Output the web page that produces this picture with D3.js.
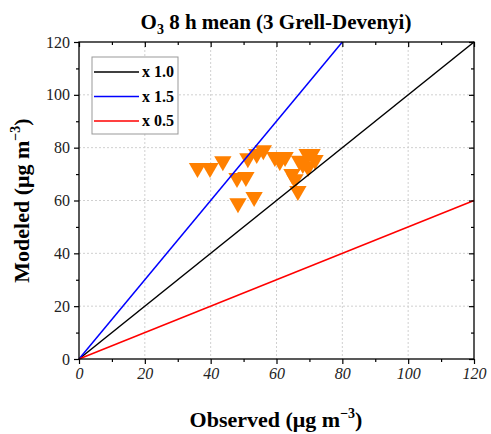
<!DOCTYPE html>
<html><head><meta charset="utf-8">
<script src="https://cdn.jsdelivr.net/npm/d3@7"></script>
<style>body{margin:0;background:#fff}svg{display:block}text{font-family:"Liberation Serif","Times New Roman",serif}</style>
</head><body><svg id="c" width="491" height="434"></svg>
<script>
const observed = [36,39.8,43.7,48,50.7,48.3,53.2,51.3,54,56,59.5,62.6,61,64.7,65.6,66.5,69.3,70.8,68,71.7,69.6,67];
const modeled  = [72.3,72.3,74.9,68.5,68.9,59,61.3,76,77.6,79,76.5,76.5,75,70,68,63.6,77.6,77.6,73.8,75.3,72.7,75];
const ratioLabels = ["x 1.0","x 1.5","x 0.5"];
const ratios = [1.0,1.5,0.5];
const ratioColors = ["#000000","#0000ff","#ff0000"];
const majorTicks = [0,20,40,60,80,100,120];
const minorTicks = [10,30,50,70,90,110];

const svg = d3.select("#c");
const L=79,R=474,T=42,B=359;
const x = d3.scaleLinear().domain([0,120]).range([L,R]);
const y = d3.scaleLinear().domain([0,120]).range([B,T]);

// grid
const g = svg.append("g");
majorTicks.slice(1,-1).forEach(v=>{
  g.append("line").attr("x1",x(v)).attr("x2",x(v)).attr("y1",T).attr("y2",B).attr("stroke","#d0d0d0").attr("stroke-dasharray","2,2");
  g.append("line").attr("y1",y(v)).attr("y2",y(v)).attr("x1",L).attr("x2",R).attr("stroke","#d0d0d0").attr("stroke-dasharray","2,2");
});

// points
svg.append("g").selectAll("path").data(observed.map((o,i)=>[o,modeled[i]])).join("path")
  .attr("d", d3.symbol(d3.symbolTriangle, 130))
  .attr("transform", d=>`translate(${x(d[0])},${y(d[1])}) rotate(180)`)
  .attr("fill","#ff8000");

// lines
const line = d3.line().x(d=>x(d[0])).y(d=>y(d[1]));
ratios.forEach((r,i)=>{
  const xe = Math.min(120, 120/r);
  svg.append("path").attr("d", line([[0,0],[xe,xe*r]])).attr("stroke",ratioColors[i]).attr("stroke-width",1.5).attr("fill","none");
});

// axes
const axB = d3.axisBottom(x).tickValues(majorTicks).tickSize(5).tickPadding(4);
const bx = svg.append("g").attr("transform",`translate(0,${B})`).call(axB);
bx.selectAll("text").attr("font-size",16).attr("font-style","italic").attr("fill","#222").style("font-family","Liberation Serif");
const axL = d3.axisLeft(y).tickValues(majorTicks).tickSize(5).tickPadding(4);
const ly = svg.append("g").attr("transform",`translate(${L},0)`).call(axL);
ly.selectAll("text").attr("font-size",16).attr("fill","#222").style("font-family","Liberation Serif");
svg.append("g").attr("transform",`translate(0,${T})`).call(d3.axisBottom(x).tickValues(majorTicks).tickSize(5).tickFormat(""));
svg.append("g").attr("transform",`translate(${R},0)`).call(d3.axisLeft(y).tickValues(majorTicks).tickSize(5).tickFormat(""));
// minor
svg.append("g").attr("transform",`translate(0,${B})`).call(d3.axisBottom(x).tickValues(minorTicks).tickSize(3).tickFormat(""));
svg.append("g").attr("transform",`translate(${L},0)`).call(d3.axisLeft(y).tickValues(minorTicks).tickSize(3).tickFormat(""));
svg.append("g").attr("transform",`translate(0,${T})`).call(d3.axisBottom(x).tickValues(minorTicks).tickSize(3).tickFormat(""));
svg.append("g").attr("transform",`translate(${R},0)`).call(d3.axisLeft(y).tickValues(minorTicks).tickSize(3).tickFormat(""));
svg.selectAll(".domain").remove();
svg.selectAll(".tick line").attr("stroke","#000").attr("stroke-width",1.2);
// frame
svg.append("rect").attr("x",L).attr("y",T).attr("width",R-L).attr("height",B-T).attr("fill","none").attr("stroke","#000").attr("stroke-width",1.3);

// legend
const lg = svg.append("g");
lg.append("rect").attr("x",92).attr("y",57).attr("width",86).attr("height",77).attr("fill","#fff").attr("stroke","#999");
ratioLabels.forEach((t,i)=>{
  const yy = 72 + i*24.5;
  lg.append("line").attr("x1",94).attr("x2",139).attr("y1",yy).attr("y2",yy).attr("stroke",ratioColors[i]).attr("stroke-width",1.5);
  lg.append("text").attr("x",142).attr("y",yy+5).attr("font-size",16).attr("font-weight","bold").text(t);
});

// title
const tt = svg.append("text").attr("x",276).attr("y",29).attr("text-anchor","middle").attr("font-size",21).attr("font-weight","bold");
tt.append("tspan").text("O");
tt.append("tspan").attr("font-size",14).attr("dy",5).text("3");
tt.append("tspan").attr("dy",-5).text(" 8 h mean (3 Grell-Devenyi)");

// x label
const xl = svg.append("text").attr("x",276).attr("y",427).attr("text-anchor","middle").attr("font-size",22).attr("font-weight","bold");
xl.append("tspan").text("Observed (μg m");
xl.append("tspan").attr("font-size",14).attr("dy",-9).text("−3");
xl.append("tspan").attr("dy",9).text(")");

// y label
const yl = svg.append("text").attr("transform",`translate(29,${(T+B)/2}) rotate(-90)`).attr("text-anchor","middle").attr("font-size",22).attr("font-weight","bold");
yl.append("tspan").text("Modeled (μg m");
yl.append("tspan").attr("font-size",14).attr("dy",-9).text("−3");
yl.append("tspan").attr("dy",9).text(")");
</script></body></html>
